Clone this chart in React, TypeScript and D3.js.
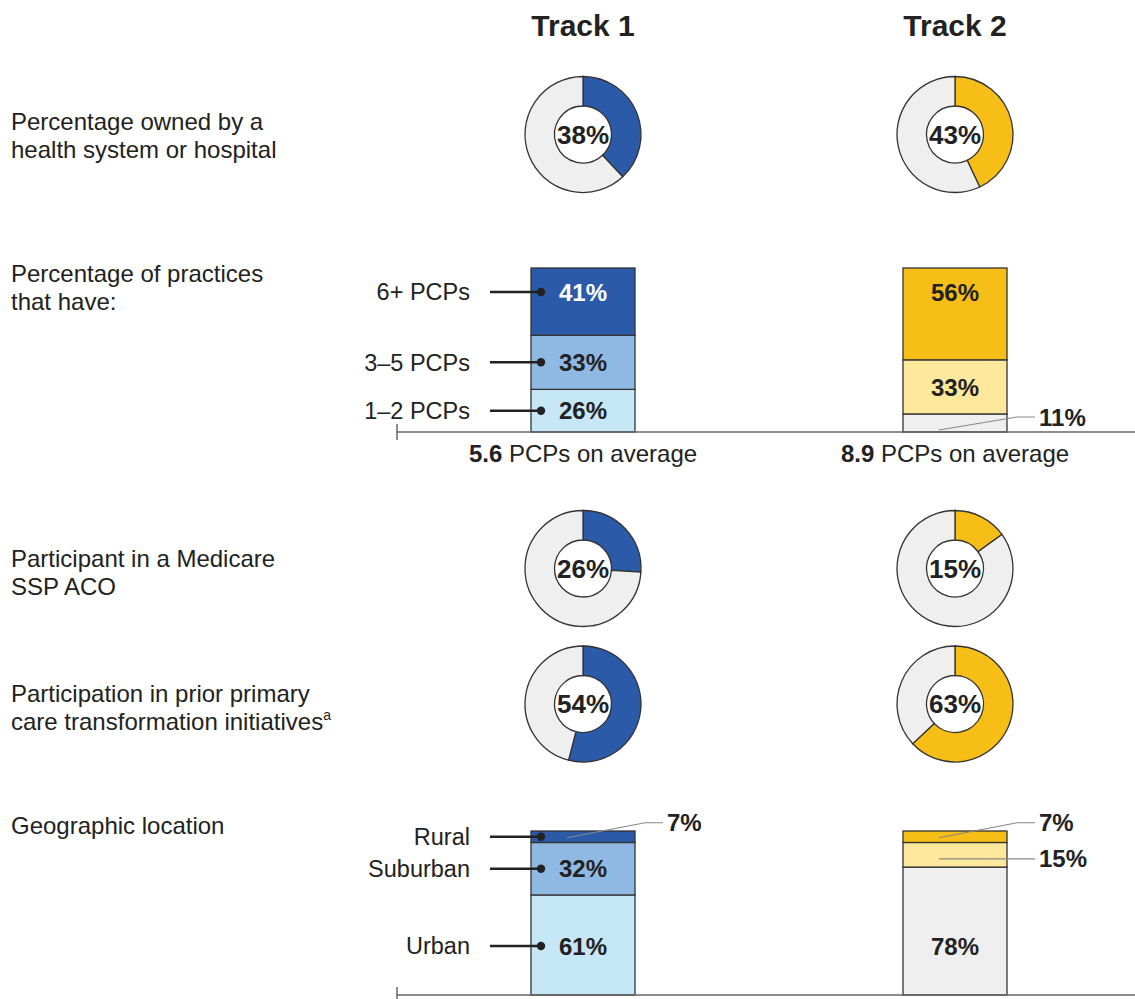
import * as d3 from 'd3'

const tracks = ['Track 1', 'Track 2']

// donut rows: share with the attribute, per track
const ownedBySystem = [38, 43]
const medicareSsp = [26, 15]
const priorInitiatives = [54, 63]

// practice size, stacked bottom -> top
const sizeCats = ['1\u20132 PCPs', '3\u20135 PCPs', '6+ PCPs']
const sizeTrack1 = [26, 33, 41]
const sizeTrack2 = [11, 33, 56]
const avgPcps = ['5.6', '8.9']

// geography, stacked bottom -> top
const geoCats = ['Urban', 'Suburban', 'Rural']
const geoTrack1 = [61, 32, 7]
const geoTrack2 = [78, 15, 7]

const rowLabels = [
  ['Percentage owned by a', 'health system or hospital'],
  ['Percentage of practices', 'that have:'],
  ['Participant in a Medicare', 'SSP ACO'],
  ['Participation in prior primary', 'care transformation initiatives'],
  ['Geographic location']
]

const W = 1135
const H = 999
const font = '"Liberation Sans", Arial, Helvetica, sans-serif'
const ink = '#222'
const edge = '#333'
const gray = '#efefef'
const palettes = [
  ['#c6e7f6', '#8fb9e3', '#2b5ba8'],
  [gray, '#fde89b', '#f6be17']
]
const main = ['#2b5ba8', '#f6be17']

const x = d3.scalePoint<string>().domain(tracks).range([583, 955])
const barW = 104
const pie = d3.pie<number>().sort(null).value(d => d)
const arc = d3.arc<d3.PieArcDatum<number>>().innerRadius(28.5).outerRadius(58)

function Donut({ cx, cy, value, color }: { cx: number; cy: number; value: number; color: string }) {
  const arcs = pie([value, 100 - value])
  return (
    <g transform={`translate(${cx},${cy})`}>
      {arcs.map((a, i) => (
        <path key={i} d={arc(a) || ''} fill={i === 0 ? color : gray} stroke={edge} strokeWidth={1.3} />
      ))}
      <text textAnchor="middle" dy="0.36em" fontSize={26} fontWeight="bold" fill={ink}>{value}%</text>
    </g>
  )
}

type StackProps = {
  track: number
  values: number[]
  cats: string[]
  y0: number
  y1: number
  showCats: boolean
}

function Stack({ track, values, cats, y0, y1, showCats }: StackProps) {
  const y = d3.scaleLinear().domain([0, 100]).range([y0, y1])
  const cx = x(tracks[track]) as number
  const left = cx - barW / 2
  const stacked = d3.stack<number[]>().keys(values.map((_, i) => String(i)))
    .value((d, k) => d[+k])([values])
  const n = values.length
  return (
    <g>
      {stacked.map((s, i) => {
        const lo = y(s[0][0])
        const hi = y(s[0][1])
        const h = lo - hi
        const mid = (lo + hi) / 2
        let ly = mid
        if (i === n - 1 && h > 60) ly = hi + 24
        else if (i === 0 && h > 80) ly = lo - 49
        const inside = h >= 25
        const white = palettes[track][i] === '#2b5ba8'
        const ey = mid + (i === n - 1 ? -14 : i === 0 ? -6 : 4)
        const sx = left + 36
        const sy = i === 0 ? lo - 2 : mid + 1
        const tx = left + barW + 32
        return (
          <g key={i}>
            <rect x={left} y={hi} width={barW} height={h} fill={palettes[track][i]} stroke={edge} strokeWidth={1.3} />
            {inside && (
              <text x={cx} y={ly} dy="0.36em" textAnchor="middle" fontSize={24} fontWeight="bold" fill={white ? '#fff' : ink}>{values[i]}%</text>
            )}
            {!inside && (
              <g>
                <polyline
                  points={Math.abs(ey - sy) > 3
                    ? `${sx},${sy} ${tx - 22},${ey} ${tx - 4},${ey}`
                    : `${sx},${ey} ${tx - 4},${ey}`}
                  fill="none" stroke="#888" strokeWidth={1.2} />
                <text x={tx} y={ey} dy="0.36em" fontSize={24} fontWeight="bold" fill={ink}>{values[i]}%</text>
              </g>
            )}
            {showCats && (
              <g>
                <text x={470} y={inside ? ly : mid} dy="0.36em" textAnchor="end" fontSize={23.5} fill={ink}>{cats[i]}</text>
                <line x1={490} x2={541} y1={inside ? ly : mid} y2={inside ? ly : mid} stroke={ink} strokeWidth={2.5} />
                <circle cx={541} cy={inside ? ly : mid} r={4.2} fill={ink} />
              </g>
            )}
          </g>
        )
      })}
    </g>
  )
}

function Baseline({ y }: { y: number }) {
  return (
    <g stroke="#666" strokeWidth={1.5}>
      <line x1={397} x2={W} y1={y} y2={y} />
      <line x1={397} x2={397} y1={y - 8} y2={y + 8} />
    </g>
  )
}

export default function App() {
  const labelY = [130, 282, 567, 702, 834]
  return (
    <svg width={W} height={H} style={{ position: 'absolute', left: 0, top: 0, background: '#fff' }} fontFamily={font}>
      {tracks.map(t => (
        <text key={t} x={x(t)} y={36} textAnchor="middle" fontSize={30} fontWeight="bold" fill={ink}>{t}</text>
      ))}

      {rowLabels.map((lines, r) => (
        <text key={r} x={11} y={labelY[r]} fontSize={24} fill={ink}>
          {lines.map((l, j) => (
            <tspan key={j} x={11} dy={j === 0 ? 0 : 28}>
              {l}
              {r === 3 && j === 1 && <tspan fontSize={14} dy={-10}>a</tspan>}
            </tspan>
          ))}
        </text>
      ))}

      {tracks.map((t, i) => (
        <g key={t}>
          <Donut cx={x(t) as number} cy={134.5} value={ownedBySystem[i]} color={main[i]} />
          <Donut cx={x(t) as number} cy={568.5} value={medicareSsp[i]} color={main[i]} />
          <Donut cx={x(t) as number} cy={704} value={priorInitiatives[i]} color={main[i]} />
        </g>
      ))}

      <Stack track={0} values={sizeTrack1} cats={sizeCats} y0={432} y1={268} showCats />
      <Stack track={1} values={sizeTrack2} cats={sizeCats} y0={432} y1={268} showCats={false} />
      <Baseline y={432} />
      {tracks.map((t, i) => (
        <text key={t} x={x(t)} y={453} dy="0.36em" textAnchor="middle" fontSize={24} fill={ink}>
          <tspan fontWeight="bold">{avgPcps[i]}</tspan> PCPs on average
        </text>
      ))}

      <Stack track={0} values={geoTrack1} cats={geoCats} y0={995} y1={831} showCats />
      <Stack track={1} values={geoTrack2} cats={geoCats} y0={995} y1={831} showCats={false} />
      <Baseline y={995} />
    </svg>
  )
}
